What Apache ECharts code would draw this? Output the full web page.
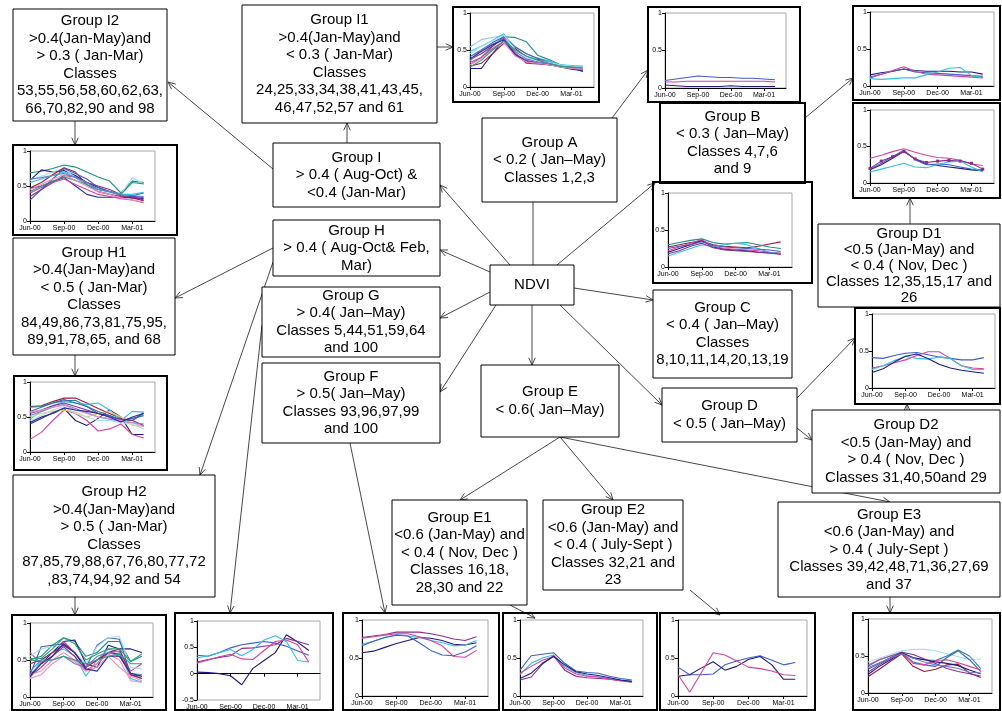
<!DOCTYPE html>
<html>
<head>
<meta charset="UTF-8">
<title>NDVI class groups</title>
<script src="https://cdn.jsdelivr.net/npm/echarts@6/dist/echarts.min.js"></script>
<style>
  body { margin: 0; background: #fff; }
  #chart { width: 1002px; height: 711px; }
</style>
</head>
<body>
<div id="chart"></div>
<script>
// x axis: monthly, Jun-00 .. May-01, only every 3rd month labelled
var months = ['Jun-00','Jul-00','Aug-00','Sep-00','Oct-00','Nov-00','Dec-00','Jan-01','Feb-01','Mar-01','Apr-01','May-01'];
var tickLabels = ['Jun-00','Sep-00','Dec-00','Mar-01'];

// NDVI profiles per class, Jun-00 .. Apr-01
var groupI1 = [
  [0.54,0.64,0.67,0.70,0.55,0.45,0.38,0.35,0.30,0.27,0.26],
  [0.30,0.40,0.55,0.68,0.67,0.61,0.43,0.37,0.30,0.28,0.28],
  [0.25,0.25,0.45,0.63,0.43,0.34,0.32,0.30,0.28,0.26,0.21],
  [0.28,0.32,0.45,0.59,0.52,0.41,0.37,0.33,0.30,0.26,0.23],
  [0.48,0.55,0.63,0.72,0.43,0.37,0.39,0.35,0.30,0.29,0.28],
  [0.37,0.45,0.55,0.66,0.46,0.32,0.31,0.30,0.28,0.25,0.23],
  [0.41,0.50,0.60,0.68,0.54,0.45,0.39,0.33,0.28,0.27,0.25],
  [0.33,0.40,0.52,0.62,0.45,0.36,0.33,0.31,0.28,0.25,0.23],
  [0.35,0.50,0.58,0.65,0.48,0.38,0.34,0.32,0.29,0.27,0.24],
  [0.45,0.55,0.62,0.70,0.50,0.40,0.36,0.33,0.30,0.28,0.27],
  [0.38,0.48,0.57,0.64,0.44,0.35,0.32,0.30,0.27,0.24,0.22],
  [0.30,0.38,0.50,0.60,0.42,0.34,0.32,0.30,0.27,0.25,0.24],
  [0.27,0.36,0.50,0.62,0.50,0.42,0.36,0.32,0.28,0.27,0.26]
];
var groupA = [
  [0.10,0.12,0.14,0.16,0.15,0.14,0.14,0.13,0.13,0.12,0.11],
  [0.08,0.08,0.09,0.09,0.09,0.09,0.09,0.09,0.09,0.09,0.08],
  [0.04,0.03,0.02,0.02,0.02,0.02,0.03,0.02,0.02,0.02,0.02]
];
var groupB = [
  [0.15,0.18,0.20,0.23,0.21,0.20,0.20,0.20,0.19,0.19,0.16],
  [0.12,0.16,0.20,0.23,0.19,0.18,0.17,0.16,0.15,0.14,0.13],
  [0.11,0.16,0.21,0.26,0.20,0.16,0.15,0.14,0.13,0.12,0.11],
  [0.10,0.09,0.10,0.11,0.11,0.15,0.19,0.24,0.25,0.14,0.11]
];
var groupD1 = [
  [0.34,0.38,0.43,0.47,0.42,0.38,0.35,0.34,0.31,0.26,0.24],
  [0.18,0.25,0.34,0.43,0.33,0.26,0.24,0.22,0.20,0.18,0.17],
  [0.19,0.27,0.36,0.45,0.32,0.25,0.26,0.25,0.22,0.19,0.18],
  [0.20,0.30,0.36,0.43,0.33,0.28,0.30,0.31,0.30,0.27,0.19],
  [0.15,0.19,0.23,0.27,0.22,0.21,0.25,0.29,0.30,0.22,0.15]
];
var groupI2 = [
  [0.69,0.71,0.75,0.80,0.77,0.70,0.63,0.57,0.40,0.57,0.55],
  [0.58,0.73,0.70,0.72,0.65,0.55,0.48,0.42,0.36,0.35,0.34],
  [0.47,0.50,0.56,0.62,0.50,0.38,0.34,0.34,0.34,0.33,0.32],
  [0.58,0.64,0.70,0.75,0.62,0.50,0.42,0.40,0.38,0.62,0.53],
  [0.35,0.45,0.55,0.65,0.63,0.55,0.50,0.45,0.38,0.35,0.30],
  [0.40,0.48,0.55,0.60,0.52,0.45,0.38,0.35,0.32,0.30,0.26],
  [0.47,0.55,0.66,0.76,0.70,0.52,0.42,0.38,0.35,0.33,0.29],
  [0.30,0.45,0.60,0.75,0.68,0.60,0.48,0.42,0.38,0.36,0.40],
  [0.55,0.60,0.65,0.70,0.62,0.52,0.45,0.42,0.38,0.38,0.41],
  [0.42,0.50,0.57,0.63,0.58,0.52,0.45,0.42,0.38,0.55,0.53],
  [0.60,0.62,0.65,0.68,0.62,0.55,0.45,0.42,0.37,0.36,0.35],
  [0.45,0.52,0.60,0.66,0.58,0.50,0.42,0.38,0.33,0.30,0.27]
];
var groupC = [
  [0.27,0.30,0.33,0.35,0.30,0.28,0.27,0.26,0.28,0.31,0.34],
  [0.30,0.33,0.36,0.38,0.33,0.31,0.32,0.33,0.30,0.27,0.25],
  [0.20,0.25,0.30,0.36,0.27,0.24,0.23,0.22,0.20,0.19,0.18],
  [0.22,0.27,0.32,0.37,0.28,0.25,0.24,0.23,0.22,0.20,0.19],
  [0.15,0.20,0.25,0.30,0.28,0.30,0.32,0.30,0.25,0.20,0.18],
  [0.25,0.28,0.30,0.34,0.29,0.27,0.26,0.25,0.24,0.23,0.21],
  [0.18,0.22,0.28,0.32,0.26,0.23,0.22,0.21,0.20,0.19,0.17]
];
var groupD2 = [
  [0.41,0.40,0.44,0.47,0.48,0.45,0.42,0.40,0.38,0.38,0.41],
  [0.27,0.30,0.34,0.38,0.44,0.49,0.49,0.40,0.30,0.27,0.26],
  [0.25,0.30,0.37,0.43,0.40,0.39,0.42,0.40,0.30,0.25,0.25],
  [0.21,0.26,0.35,0.43,0.46,0.40,0.32,0.27,0.24,0.22,0.20]
];
var groupH1 = [
  [0.65,0.66,0.72,0.77,0.77,0.70,0.62,0.55,0.48,0.45,0.56],
  [0.64,0.65,0.70,0.73,0.74,0.65,0.55,0.52,0.46,0.45,0.55],
  [0.42,0.50,0.55,0.62,0.45,0.38,0.48,0.60,0.50,0.25,0.25],
  [0.18,0.28,0.45,0.60,0.55,0.45,0.30,0.33,0.40,0.25,0.20],
  [0.47,0.58,0.66,0.72,0.70,0.68,0.70,0.60,0.45,0.58,0.57],
  [0.50,0.55,0.58,0.60,0.57,0.50,0.55,0.58,0.50,0.38,0.37],
  [0.55,0.60,0.66,0.70,0.65,0.60,0.55,0.50,0.47,0.45,0.38],
  [0.45,0.52,0.60,0.65,0.55,0.50,0.45,0.45,0.42,0.40,0.33],
  [0.58,0.64,0.70,0.75,0.70,0.65,0.58,0.52,0.45,0.48,0.52],
  [0.52,0.58,0.64,0.68,0.62,0.56,0.50,0.47,0.44,0.42,0.40],
  [0.57,0.60,0.64,0.67,0.60,0.55,0.50,0.48,0.45,0.42,0.36],
  [0.40,0.48,0.56,0.63,0.60,0.58,0.55,0.50,0.43,0.50,0.55]
];
var groupH2 = [
  [0.50,0.55,0.70,0.80,0.75,0.55,0.60,0.75,0.75,0.48,0.55],
  [0.30,0.45,0.60,0.75,0.77,0.45,0.40,0.70,0.65,0.65,0.60],
  [0.60,0.45,0.55,0.75,0.60,0.40,0.50,0.60,0.62,0.35,0.45],
  [0.25,0.50,0.60,0.65,0.55,0.28,0.50,0.65,0.60,0.25,0.20],
  [0.30,0.68,0.70,0.72,0.60,0.40,0.70,0.80,0.78,0.30,0.25],
  [0.55,0.65,0.68,0.70,0.60,0.45,0.68,0.80,0.82,0.40,0.38],
  [0.28,0.40,0.55,0.68,0.55,0.36,0.45,0.60,0.58,0.30,0.28],
  [0.45,0.50,0.60,0.70,0.60,0.40,0.50,0.60,0.65,0.30,0.25],
  [0.25,0.30,0.45,0.55,0.48,0.35,0.40,0.55,0.40,0.28,0.22],
  [0.30,0.35,0.50,0.60,0.50,0.35,0.45,0.58,0.50,0.22,0.20],
  [0.52,0.52,0.65,0.80,0.72,0.50,0.58,0.65,0.65,0.48,0.58],
  [0.35,0.50,0.50,0.55,0.45,0.40,0.55,0.60,0.55,0.32,0.30],
  [0.28,0.45,0.55,0.72,0.60,0.38,0.35,0.55,0.55,0.32,0.28],
  [0.50,0.48,0.50,0.55,0.50,0.45,0.50,0.55,0.58,0.45,0.45]
];
var groupG = [
  [0.03,0.02,0.00,-0.04,-0.21,0.10,0.25,0.40,0.74,0.60,0.44],
  [0.35,0.33,0.40,0.49,0.55,0.58,0.61,0.58,0.52,0.43,0.35],
  [0.22,0.27,0.31,0.34,0.48,0.49,0.52,0.55,0.67,0.61,0.55],
  [0.20,0.26,0.32,0.37,0.28,0.27,0.44,0.61,0.64,0.55,0.22],
  [0.30,0.34,0.40,0.46,0.34,0.46,0.64,0.72,0.61,0.25,0.22]
];
var groupF = [
  [0.77,0.79,0.81,0.84,0.84,0.84,0.82,0.79,0.75,0.73,0.78],
  [0.57,0.59,0.64,0.69,0.73,0.77,0.76,0.73,0.68,0.67,0.70],
  [0.68,0.72,0.77,0.81,0.79,0.77,0.73,0.70,0.66,0.67,0.73],
  [0.66,0.72,0.77,0.80,0.79,0.70,0.60,0.54,0.53,0.58,0.66],
  [0.76,0.78,0.80,0.82,0.82,0.78,0.73,0.66,0.52,0.51,0.60]
];
var groupE1 = [
  [0.34,0.53,0.55,0.57,0.43,0.33,0.31,0.30,0.26,0.23,0.21],
  [0.28,0.43,0.50,0.54,0.39,0.31,0.27,0.25,0.23,0.21,0.20],
  [0.21,0.25,0.42,0.53,0.34,0.26,0.24,0.23,0.22,0.20,0.18],
  [0.30,0.39,0.47,0.52,0.37,0.29,0.26,0.25,0.22,0.20,0.19],
  [0.23,0.30,0.43,0.52,0.41,0.32,0.29,0.27,0.24,0.21,0.19]
];
var groupE2 = [
  [0.38,0.28,0.28,0.29,0.41,0.46,0.50,0.53,0.47,0.41,0.44],
  [0.26,0.28,0.37,0.45,0.34,0.39,0.48,0.52,0.41,0.22,0.22],
  [0.28,0.05,0.31,0.57,0.54,0.46,0.38,0.36,0.33,0.28,0.27]
];
var groupE3 = [
  [0.42,0.47,0.52,0.57,0.59,0.59,0.57,0.53,0.49,0.45,0.46],
  [0.36,0.45,0.50,0.55,0.47,0.45,0.44,0.50,0.58,0.50,0.33],
  [0.32,0.40,0.48,0.54,0.42,0.38,0.36,0.48,0.57,0.45,0.29],
  [0.38,0.45,0.50,0.55,0.40,0.38,0.44,0.45,0.41,0.36,0.31],
  [0.22,0.32,0.43,0.53,0.36,0.29,0.32,0.38,0.39,0.27,0.21],
  [0.28,0.38,0.47,0.55,0.52,0.46,0.40,0.33,0.29,0.26,0.23],
  [0.25,0.36,0.45,0.54,0.48,0.45,0.42,0.40,0.37,0.31,0.26],
  [0.34,0.41,0.47,0.53,0.47,0.42,0.38,0.36,0.33,0.28,0.27]
];

var pal = {
  navy: '#1f1a7a', blue: '#3d5fbf', purple: '#8b2b8b', magenta: '#d0449c',
  cyan: '#33bfe6', teal: '#1e8c8c', darkred: '#9c1c3c', lightcyan: '#a6e0f2',
  yellow: '#e8cf5c', pink: '#f08cc0', slate: '#6a7fd0', green: '#2e9e7a',
  lightblue: '#8fc8f0', navy2: '#2b2b9a'
};

// small plots: frame box and plot area in page pixels
var panels = [
  { data: groupI1, box: [453,7,599,102], plot: [470,13,594,87],
    colors: ['lightblue','teal','navy','darkred','cyan','purple','blue','magenta','slate','lightcyan','navy2','pink','green'] },
  { data: groupA, box: [648,7,800,102], plot: [665,13,786,88], colors: ['blue','magenta','navy'] },
  { data: groupB, box: [853,6,1000,100], plot: [870,12,994,86], colors: ['navy','blue','magenta','cyan'] },
  { data: groupD1, box: [853,103,1000,198], plot: [870,110,994,183], colors: ['magenta','navy','blue','purple','cyan'], marked: 3 },
  { data: groupI2, box: [13,145,177,235], plot: [30,151,155,221],
    colors: ['teal','navy','navy2','lightcyan','purple','magenta','darkred','blue','cyan','green','slate','pink'] },
  { data: groupC, box: [653,182,812,283], plot: [668,193,792,267], colors: ['darkred','teal','navy','magenta','cyan','blue','purple'] },
  { data: groupD2, box: [855,308,1000,404], plot: [872,314,995,388], colors: ['blue','magenta','cyan','navy'] },
  { data: groupH1, box: [14,376,167,470], plot: [30,382,155,452],
    colors: ['darkred','teal','navy','magenta','cyan','yellow','purple','lightcyan','blue','slate','pink','navy2'] },
  { data: groupH2, box: [12,615,166,710], plot: [30,623,153,697],
    colors: ['teal','navy','magenta','cyan','blue','lightcyan','purple','darkred','pink','pink','green','slate','navy2','green'] },
  { data: groupG, box: [175,613,333,710], plot: [197,621,320,705], ymin: -0.5, colors: ['navy','blue','purple','magenta','cyan'] },
  { data: groupF, box: [343,613,499,710], plot: [362,620,488,696], colors: ['purple','navy','cyan','blue','magenta'] },
  { data: groupE1, box: [503,613,657,710], plot: [520,620,643,696], colors: ['blue','cyan','purple','magenta','navy'] },
  { data: groupE2, box: [660,613,815,710], plot: [678,620,807,696], colors: ['blue','navy','magenta'] },
  { data: groupE3, box: [853,613,1000,710], plot: [868,619,992,693],
    colors: ['lightcyan','teal','blue','magenta','darkred','purple','navy','slate'] }
];

// text boxes of the decision tree
var boxes = [
  { r: [13,9,167,121], t: ['Group I2','>0.4(Jan-May)and','> 0.3 ( Jan-Mar)','Classes','53,55,56,58,60,62,63,','66,70,82,90 and 98'] },
  { r: [242,5,437,123], t: ['Group I1','>0.4(Jan-May)and','< 0.3 ( Jan-Mar)','Classes','24,25,33,34,38,41,43,45,','46,47,52,57 and 61'] },
  { r: [273,143,440,207], t: ['Group I','> 0.4 ( Aug-Oct) &','<0.4 (Jan-Mar)'] },
  { r: [273,220,440,276], t: ['Group H','> 0.4 ( Aug-Oct& Feb,','Mar)'] },
  { r: [262,287,440,357], t: ['Group G','> 0.4( Jan\u2013May)','Classes 5,44,51,59,64','and 100'] },
  { r: [262,363,440,443], t: ['Group F','> 0.5( Jan\u2013May)','Classes 93,96,97,99','and 100'] },
  { r: [490,265,574,305], t: ['NDVI'] },
  { r: [482,118,617,202], t: ['Group A','< 0.2 ( Jan\u2013May)','Classes 1,2,3'] },
  { r: [660,103,805,183], t: ['Group B','< 0.3 ( Jan\u2013May)','Classes 4,7,6','and 9'], w: 2 },
  { r: [653,290,792,378], t: ['Group C','< 0.4 ( Jan\u2013May)','Classes','8,10,11,14,20,13,19'] },
  { r: [662,388,797,442], t: ['Group D','< 0.5 ( Jan\u2013May)'] },
  { r: [481,365,619,437], t: ['Group E','< 0.6( Jan\u2013May)'] },
  { r: [818,224,1000,307], t: ['Group D1','<0.5 (Jan-May) and','< 0.4 ( Nov, Dec )','Classes 12,35,15,17 and','26'], lh: 16 },
  { r: [812,410,1000,493], t: ['Group D2','<0.5 (Jan-May) and','> 0.4 ( Nov, Dec )','Classes 31,40,50and 29'] },
  { r: [13,238,175,355], t: ['Group H1','>0.4(Jan-May)and','< 0.5 ( Jan-Mar)','Classes','84,49,86,73,81,75,95,','89,91,78,65, and 68'] },
  { r: [13,475,215,597], t: ['Group H2','>0.4(Jan-May)and','> 0.5 ( Jan-Mar)','Classes','87,85,79,88,67,76,80,77,72',',83,74,94,92 and 54'] },
  { r: [392,500,527,605], t: ['Group E1','<0.6 (Jan-May) and','< 0.4 ( Nov, Dec )','Classes 16,18,','28,30 and 22'] },
  { r: [543,500,683,590], t: ['Group E2','<0.6 (Jan-May) and','< 0.4 ( July-Sept )','Classes 32,21 and','23'] },
  { r: [778,502,1000,597], t: ['Group E3','<0.6 (Jan-May) and','> 0.4 ( July-Sept )','Classes 39,42,48,71,36,27,69','and 37'] }
];

// connectors [x1,y1,x2,y2,head]
var links = [
  [437,47,453,47,1], [347,143,347,123,1], [273,169,168,82,1], [75,121,75,145,1],
  [75,355,75,376,1], [75,597,75,615,1], [273,248,175,298,1], [273,262,200,475,1],
  [262,325,230,613,1], [350,443,385,613,1],
  [510,265,440,185,1], [490,272,440,250,1], [490,292,440,318,1], [496,305,440,392,1],
  [532,305,532,365,1], [533,265,533,202,0], [557,265,655,183,1], [574,288,653,300,1],
  [560,305,662,405,1], [612,118,648,70,1], [805,118,853,78,1], [910,224,910,198,1],
  [797,398,855,338,1], [797,428,812,440,1], [907,410,907,404,1],
  [560,437,460,500,1], [560,437,613,500,1], [560,437,890,502,1],
  [510,605,535,618,1], [690,590,720,615,1], [890,597,890,613,1]
];

var font = '"Liberation Sans", Arial, sans-serif';
var grids = [], xAxes = [], yAxes = [], series = [], graphics = [];

panels.forEach(function (p, i) {
  grids.push({
    left: p.plot[0], top: p.plot[1],
    width: p.plot[2] - p.plot[0], height: p.plot[3] - p.plot[1],
    show: true, borderColor: '#a8a8a8', borderWidth: 1, backgroundColor: 'transparent'
  });
  xAxes.push({
    gridIndex: i, type: 'category', data: months, boundaryGap: false,
    axisLine: { onZero: true, lineStyle: { color: '#000', width: 1 } },
    axisTick: { length: 3, interval: 2, lineStyle: { color: '#000' } },
    axisLabel: {
      interval: 2, fontSize: 7, color: '#000', margin: 4, fontFamily: font,
      formatter: function (v) { return tickLabels.indexOf(v) >= 0 ? v : ''; }
    },
    splitLine: { show: false }
  });
  yAxes.push({
    gridIndex: i, type: 'value', min: p.ymin || 0, max: 1, interval: 0.5,
    axisLine: { show: true, lineStyle: { color: '#000', width: 1 } },
    axisTick: { show: true, length: 3, lineStyle: { color: '#000' } },
    axisLabel: { fontSize: 7, color: '#000', margin: 3, fontFamily: font },
    splitLine: { show: false }
  });
  p.data.forEach(function (vals, k) {
    var c = pal[p.colors[k]];
    series.push({
      type: 'line', xAxisIndex: i, yAxisIndex: i, data: vals,
      symbol: p.marked === k ? 'rect' : 'none', symbolSize: 3,
      lineStyle: { width: 1.1, color: c }, itemStyle: { color: c },
      silent: true, animation: false
    });
  });
  graphics.push({
    type: 'rect', z: 5,
    shape: { x: p.box[0], y: p.box[1], width: p.box[2] - p.box[0], height: p.box[3] - p.box[1] },
    style: { fill: null, stroke: '#000', lineWidth: 2 }
  });
});

links.forEach(function (l) {
  var x1 = l[0], y1 = l[1], x2 = l[2], y2 = l[3];
  graphics.push({ type: 'line', z: 1, shape: { x1: x1, y1: y1, x2: x2, y2: y2 },
    style: { stroke: '#333', lineWidth: 0.9 } });
  if (l[4]) {
    var a = Math.atan2(y2 - y1, x2 - x1), L = 8, w = 0.42;
    graphics.push({ type: 'polyline', z: 1,
      shape: { points: [[x2 - L * Math.cos(a - w), y2 - L * Math.sin(a - w)], [x2, y2],
                        [x2 - L * Math.cos(a + w), y2 - L * Math.sin(a + w)]] },
      style: { stroke: '#333', fill: null, lineWidth: 0.9 } });
  }
});

boxes.forEach(function (b) {
  var r = b.r, lh = b.lh || 17.5;
  graphics.push({ type: 'rect', z: 3,
    shape: { x: r[0], y: r[1], width: r[2] - r[0], height: r[3] - r[1] },
    style: { fill: '#fff', stroke: '#000', lineWidth: b.w || 1 } });
  var cy = (r[1] + r[3]) / 2, n = b.t.length;
  b.t.forEach(function (line, k) {
    graphics.push({ type: 'text', z: 4,
      style: { text: line, x: (r[0] + r[2]) / 2, y: cy + (k - (n - 1) / 2) * lh,
        textAlign: 'center', textVerticalAlign: 'middle', fill: '#000',
        font: '15px ' + font } });
  });
});

var chart = echarts.init(document.getElementById('chart'));
chart.setOption({
  animation: false,
  backgroundColor: '#fff',
  grid: grids, xAxis: xAxes, yAxis: yAxes, series: series,
  graphic: graphics
});
</script>
</body>
</html>
